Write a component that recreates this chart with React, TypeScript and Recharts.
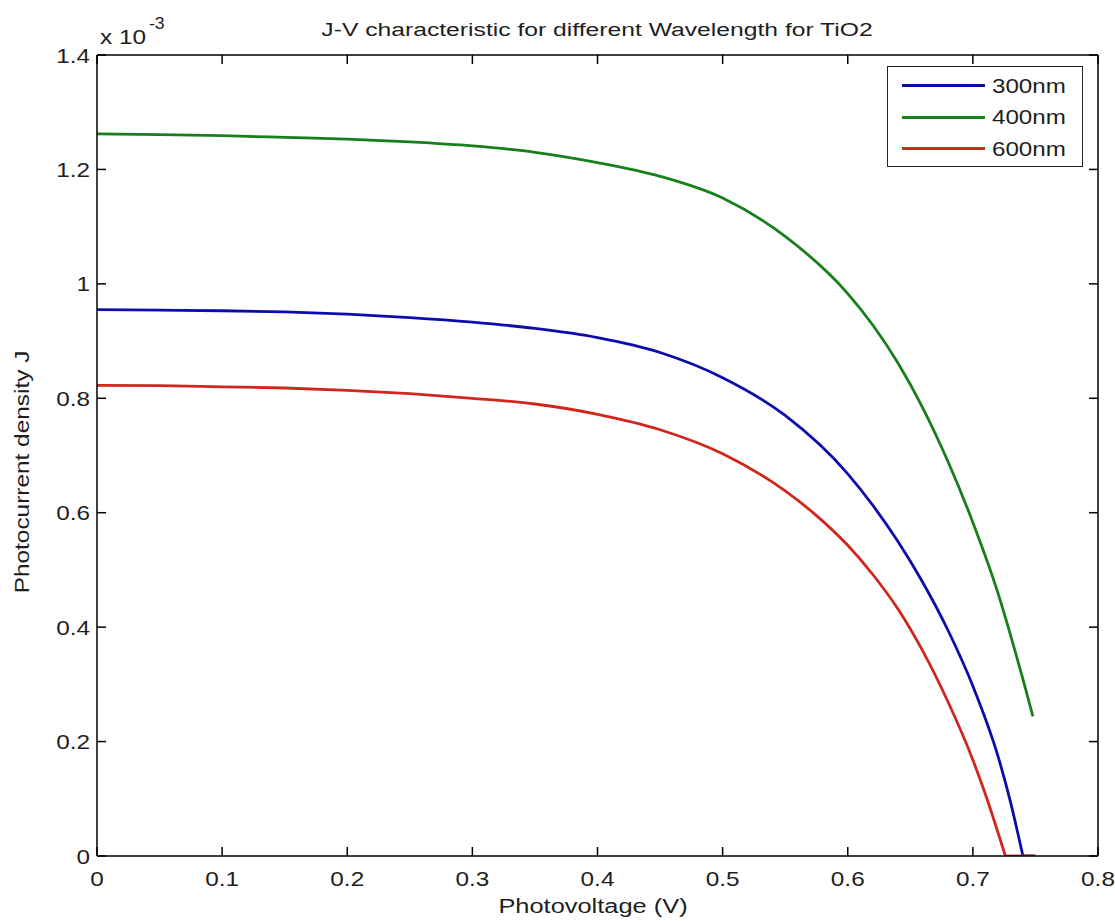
import React from 'react';
import { LineChart, Line, XAxis, YAxis, Legend } from 'recharts';

const W = 1115;
const H = 921;
const FONT = '"Liberation Sans", Arial, Helvetica, sans-serif';

const titleText = 'J-V characteristic for different Wavelength for TiO2';
const xLabelText = 'Photovoltage (V)';
const yLabelText = 'Photocurrent density J';

const xTicks = [0, 0.1, 0.2, 0.3, 0.4, 0.5, 0.6, 0.7, 0.8];
const yTicks = [0, 0.2, 0.4, 0.6, 0.8, 1, 1.2, 1.4];

const seriesNames = ['300nm', '400nm', '600nm'];
const seriesColors = ['#0c0cae', '#17801a', '#d0261c'];

// Photovoltage (V)
const voltage300 = [0, 0.05, 0.1, 0.15, 0.2, 0.25, 0.3, 0.35, 0.4, 0.45, 0.5, 0.55, 0.6, 0.62, 0.64, 0.66, 0.68, 0.7, 0.72, 0.73, 0.74];
const voltage400 = [0, 0.05, 0.1, 0.15, 0.2, 0.25, 0.3, 0.35, 0.4, 0.45, 0.5, 0.55, 0.6, 0.62, 0.64, 0.66, 0.68, 0.7, 0.72, 0.73, 0.74, 0.748];
const voltage600 = [0, 0.05, 0.1, 0.15, 0.2, 0.25, 0.3, 0.35, 0.4, 0.45, 0.5, 0.55, 0.575, 0.6, 0.62, 0.64, 0.66, 0.68, 0.7, 0.71, 0.726];

// Photocurrent density J (x 10^-3)
const current300 = [0.955, 0.954, 0.953, 0.951, 0.947, 0.941, 0.933, 0.922, 0.906, 0.88, 0.836, 0.77, 0.668, 0.613, 0.55, 0.478, 0.395, 0.297, 0.175, 0.095, 0];
const current400 = [1.262, 1.261, 1.259, 1.256, 1.253, 1.248, 1.241, 1.23, 1.212, 1.188, 1.15, 1.083, 0.983, 0.928, 0.862, 0.783, 0.69, 0.583, 0.46, 0.387, 0.309, 0.244];
const current600 = [0.8225, 0.822, 0.82, 0.818, 0.814, 0.808, 0.8, 0.79, 0.772, 0.745, 0.703, 0.638, 0.595, 0.543, 0.492, 0.432, 0.358, 0.27, 0.168, 0.108, 0];

// Flat tails after the curves reach J = 0
const tailVoltage300 = [0.74, 0.75];
const tailCurrent300 = [0, 0];
const tailVoltage600 = [0.726, 0.749];
const tailCurrent600 = [0, 0];

const toPoints = (vs: number[], js: number[]) => vs.map((v, i) => ({ v, j: js[i] }));

const series300 = toPoints(voltage300, current300);
const series400 = toPoints(voltage400, current400);
const series600 = toPoints(voltage600, current600);
const tail300 = toPoints(tailVoltage300, tailCurrent300);
const tail600 = toPoints(tailVoltage600, tailCurrent600);

const TICK_LEN = 9;
const TICK_FONT = 21;
const TICK_STRETCH = 1.16;
const TEXT_FILL = '#1e1e1e';
const LINE_W = 2.8;

const StretchText = (props: any) => {
  const { x, y, size, stretch, anchor, rotate, children } = props;
  const tf = `translate(${x},${y})${rotate ? ` rotate(${rotate})` : ''} scale(${stretch},1)`;
  return (
    <text x={0} y={0} transform={tf} textAnchor={anchor || 'start'} fontSize={size} fontFamily={FONT} fill={TEXT_FILL}>
      {children}
    </text>
  );
};

const BottomTick = (props: any) => {
  const { x, y, payload } = props;
  return (
    <g>
      <line x1={x} y1={y} x2={x} y2={y - TICK_LEN} stroke="#000" strokeWidth={1.5} />
      <StretchText x={x} y={y + 30} size={TICK_FONT} stretch={TICK_STRETCH} anchor="middle">
        {String(payload.value)}
      </StretchText>
    </g>
  );
};

const TopTick = (props: any) => {
  const { x, y } = props;
  return <line x1={x} y1={y} x2={x} y2={y + TICK_LEN} stroke="#000" strokeWidth={1.5} />;
};

const LeftTick = (props: any) => {
  const { x, y, payload } = props;
  return (
    <g>
      <line x1={x} y1={y} x2={x + TICK_LEN} y2={y} stroke="#000" strokeWidth={1.5} />
      <StretchText x={x - 7} y={y + 7.5} size={TICK_FONT} stretch={TICK_STRETCH} anchor="end">
        {String(payload.value)}
      </StretchText>
    </g>
  );
};

const RightTick = (props: any) => {
  const { x, y } = props;
  return <line x1={x} y1={y} x2={x - TICK_LEN} y2={y} stroke="#000" strokeWidth={1.5} />;
};

const LegendBox = (props: any) => {
  const payload = (props.payload || []).filter((e: any) => seriesNames.includes(e.value));
  return (
    <div
      style={{
        width: 196,
        height: 101,
        border: '1.5px solid #222',
        background: '#fff',
        boxSizing: 'border-box',
        paddingTop: 3,
        fontFamily: FONT,
      }}
    >
      {payload.map((entry: any) => (
        <div key={entry.value} style={{ display: 'flex', alignItems: 'center', height: 31.5 }}>
          <div style={{ marginLeft: 14, width: 83, height: 3, background: entry.color }} />
          <span
            style={{
              marginLeft: 7,
              fontSize: 21,
              color: TEXT_FILL,
              display: 'inline-block',
              transform: 'scaleX(1.15)',
              transformOrigin: 'left center',
            }}
          >
            {entry.value}
          </span>
        </div>
      ))}
    </div>
  );
};

export default function App() {
  return (
    <div style={{ position: 'absolute', left: 0, top: 0, width: W, height: H, background: '#fff' }}>
      <LineChart width={W} height={H} margin={{ top: 54, right: 16, bottom: 15, left: 37 }}>
        <XAxis
          xAxisId="bottom"
          dataKey="v"
          type="number"
          domain={[0, 0.8]}
          ticks={xTicks}
          allowDataOverflow
          height={50}
          axisLine={{ stroke: '#000', strokeWidth: 1.5 }}
          tickLine={false}
          tickSize={0}
          tickMargin={0}
          tick={<BottomTick />}
          interval={0}
        />
        <XAxis
          xAxisId="top"
          orientation="top"
          dataKey="v"
          type="number"
          domain={[0, 0.8]}
          ticks={xTicks}
          allowDataOverflow
          height={1}
          axisLine={{ stroke: '#000', strokeWidth: 1.5 }}
          tickLine={false}
          tickSize={0}
          tickMargin={0}
          tick={<TopTick />}
          interval={0}
        />
        <YAxis
          yAxisId="left"
          type="number"
          domain={[0, 1.4]}
          ticks={yTicks}
          allowDataOverflow
          width={60}
          axisLine={{ stroke: '#000', strokeWidth: 1.5 }}
          tickLine={false}
          tickSize={0}
          tickMargin={0}
          tick={<LeftTick />}
          interval={0}
        />
        <YAxis
          yAxisId="right"
          orientation="right"
          type="number"
          domain={[0, 1.4]}
          ticks={yTicks}
          allowDataOverflow
          width={1}
          axisLine={{ stroke: '#000', strokeWidth: 1.5 }}
          tickLine={false}
          tickSize={0}
          tickMargin={0}
          tick={<RightTick />}
          interval={0}
        />
        <Line
          xAxisId="bottom"
          yAxisId="left"
          data={series300}
          dataKey="j"
          name={seriesNames[0]}
          type="monotone"
          stroke={seriesColors[0]}
          strokeWidth={LINE_W}
          dot={false}
          isAnimationActive={false}
        />
        <Line
          xAxisId="bottom"
          yAxisId="left"
          data={series400}
          dataKey="j"
          name={seriesNames[1]}
          type="monotone"
          stroke={seriesColors[1]}
          strokeWidth={LINE_W}
          dot={false}
          isAnimationActive={false}
        />
        <Line
          xAxisId="bottom"
          yAxisId="left"
          data={series600}
          dataKey="j"
          name={seriesNames[2]}
          type="monotone"
          stroke={seriesColors[2]}
          strokeWidth={LINE_W}
          dot={false}
          isAnimationActive={false}
        />
        <Line
          xAxisId="bottom"
          yAxisId="left"
          data={tail300}
          dataKey="j"
          name="tail300"
          legendType="none"
          type="linear"
          stroke={seriesColors[0]}
          strokeWidth={LINE_W}
          dot={false}
          isAnimationActive={false}
        />
        <Line
          xAxisId="bottom"
          yAxisId="left"
          data={tail600}
          dataKey="j"
          name="tail600"
          legendType="none"
          type="linear"
          stroke={seriesColors[2]}
          strokeWidth={LINE_W}
          dot={false}
          isAnimationActive={false}
        />
        <Legend
          layout="vertical"
          align="center"
          verticalAlign="middle"
          content={<LegendBox />}
          wrapperStyle={{ left: 887, top: 66, width: 196, height: 101 }}
        />
        <StretchText x={597} y={36} size={19} stretch={1.3} anchor="middle">
          {titleText}
        </StretchText>
        <StretchText x={100} y={44} size={20} stretch={1.22} anchor="start">
          x 10
        </StretchText>
        <StretchText x={149} y={29} size={16} stretch={1.1} anchor="start">
          -3
        </StretchText>
        <StretchText x={593} y={913} size={20} stretch={1.27} anchor="middle">
          {xLabelText}
        </StretchText>
        <StretchText x={29} y={472} size={20} stretch={1.22} anchor="middle" rotate={-90}>
          {yLabelText}
        </StretchText>
      </LineChart>
    </div>
  );
}
